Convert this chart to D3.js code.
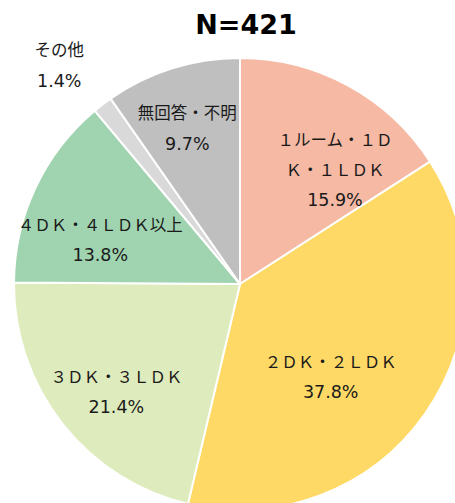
<!DOCTYPE html>
<html>
<head>
<meta charset="utf-8">
<script src="https://cdn.jsdelivr.net/npm/d3@7"></script>
<style>
  html, body { margin: 0; padding: 0; background: #fff; overflow: hidden; }
  svg { display: block; }
</style>
</head>
<body>
<svg id="area" width="455" height="503"></svg>
<script>
const categories = [
  ['１ルーム・１Ｄ', 'Ｋ・１ＬＤＫ'],
  ['２ＤＫ・２ＬＤＫ'],
  ['３ＤＫ・３ＬＤＫ'],
  ['４ＤＫ・４ＬＤＫ以上'],
  ['その他'],
  ['無回答・不明'],
];
const values = [15.9, 37.8, 21.4, 13.8, 1.4, 9.7];
const colors = ['#F5B9A4', '#FFD966', '#DEEBBC', '#A0D4B0', '#D9D9D9', '#BFBFBF'];
const title = 'N=421';

// label placement: radius factor and nudge per slice
const labelR = [0.6, 0.6, 0.6, 0.6, 1.25, 0.6];
const labelShift = [[30, 5], [-20, 15], [-17, 24], [-17, 14], [-9, 6], [-12, -26]];

const svg = d3.select('#area');
const cx = 240;
const cy = 284;
const radius = 226;

svg.append('text')
  .attr('x', 246)
  .attr('y', 34)
  .attr('text-anchor', 'middle')
  .attr('font-family', 'DejaVu Sans, Noto Sans, sans-serif')
  .attr('font-weight', 'bold')
  .attr('font-size', 27)
  .attr('fill', '#000')
  .text(title);

const pie = d3.pie().sort(null).value((d) => d);
const arcs = pie(values);
const arc = d3.arc().innerRadius(0).outerRadius(radius);

const g = svg.append('g').attr('transform', `translate(${cx},${cy})`);

g.selectAll('path')
  .data(arcs)
  .join('path')
  .attr('d', arc)
  .attr('fill', (d, i) => colors[i])
  .attr('stroke', '#fff')
  .attr('stroke-width', 2)
  .attr('stroke-linejoin', 'round');

const lineH = 30;
const labels = g.selectAll('text.lbl')
  .data(arcs)
  .join('text')
  .attr('class', 'lbl')
  .attr('text-anchor', 'middle')
  .attr('font-family', 'DejaVu Sans, Noto Sans CJK JP, sans-serif')
  .attr('font-size', 16.5)
  .attr('fill', '#1a1a1a')
  .attr('transform', (d, i) => {
    const r = radius * labelR[i];
    const c = d3.arc().innerRadius(r).outerRadius(r).centroid(d);
    return `translate(${c[0] + labelShift[i][0]},${c[1] + labelShift[i][1]})`;
  });

labels.each(function (d, i) {
  const lines = categories[i].concat([`${values[i].toFixed(1)}%`]);
  const top = -((lines.length - 1) * lineH) / 2;
  d3.select(this).selectAll('tspan')
    .data(lines)
    .join('tspan')
    .attr('x', 0)
    .attr('y', (t, j) => top + j * lineH)
    .attr('dy', '0.35em')
    .attr('font-size', (t, j) => (j === lines.length - 1 ? 17.5 : null))
    .text((t) => t);
});
</script>
</body>
</html>
